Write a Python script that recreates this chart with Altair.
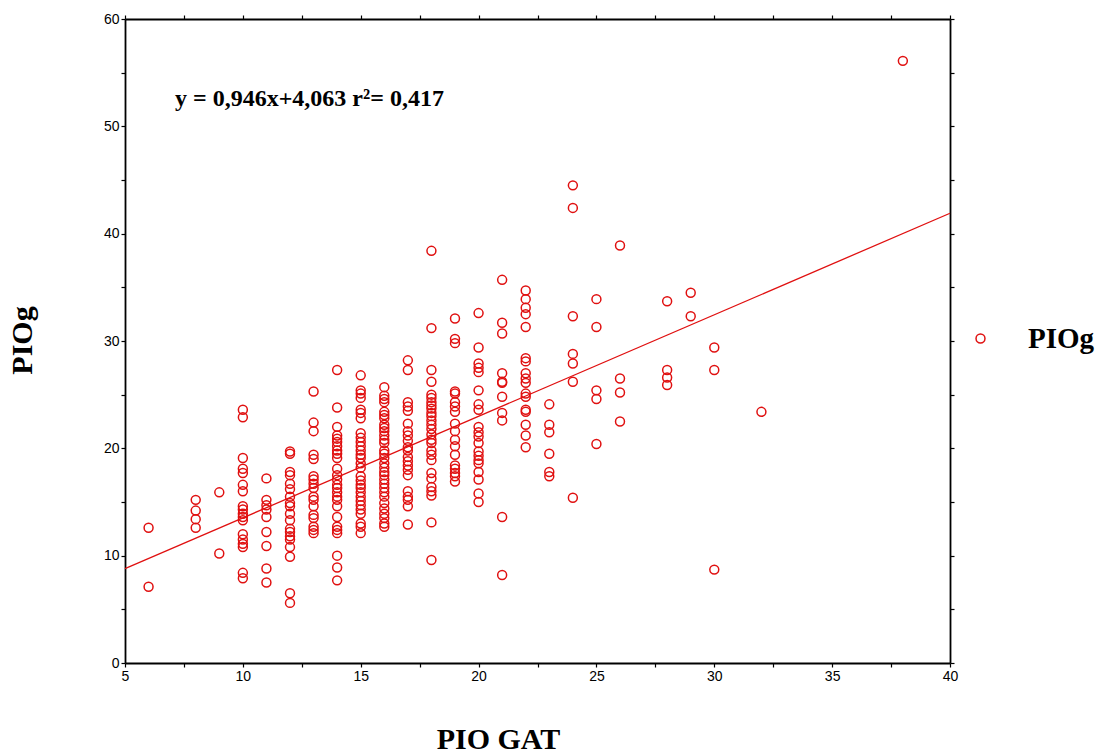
import altair as alt
import pandas as pd

# PIO GAT value of each column of points, and the PIOg values read at that column
gat_6 = [12.6, 7.1]
gat_8 = [15.2, 14.2, 13.4, 12.6]
gat_9 = [15.9, 10.2]
gat_10 = [23.6, 22.9, 19.1, 18.1, 17.7, 16.6, 16.0, 14.6, 14.3, 13.9, 13.6, 13.3, 12.0, 11.5, 11.1, 10.8, 8.4, 7.9]
gat_11 = [17.2, 15.2, 14.7, 14.3, 13.6, 12.2, 10.9, 8.8, 7.5]
gat_12 = [19.7, 19.5, 17.8, 17.5, 16.7, 16.2, 15.5, 14.9, 14.6, 13.9, 13.3, 12.5, 12.2, 11.8, 11.5, 10.8, 9.9, 6.5, 5.6]
gat_13 = [25.3, 22.4, 21.6, 19.4, 19.0, 17.4, 17.1, 16.7, 16.3, 15.5, 15.2, 14.6, 13.8, 13.5, 12.7, 12.4, 12.1]
gat_14 = [27.3, 23.8, 22.0, 21.2, 20.9, 20.6, 20.2, 19.8, 19.5, 19.1, 18.1, 17.5, 17.1, 16.6, 16.3, 15.9,
          15.5, 15.2, 14.6, 13.6, 12.7, 12.4, 12.1, 10.0, 8.9, 7.7]
gat_15 = [26.8, 25.4, 25.1, 24.7, 23.6, 23.3, 22.8, 21.4, 21.0, 20.6, 20.2, 19.8, 19.4, 19.1, 18.6, 18.2,
          17.4, 17.0, 16.6, 16.3, 15.9, 15.5, 15.1, 14.7, 14.3, 13.9, 13.0, 12.7, 12.1]
gat_16 = [25.7, 24.9, 24.6, 24.3, 23.4, 23.1, 22.8, 22.2, 21.9, 21.6, 21.2, 20.8, 20.5, 19.8, 19.5, 19.1,
          18.6, 18.2, 17.8, 17.5, 17.1, 16.7, 16.3, 15.9, 15.5, 14.9, 14.4, 13.9, 13.5, 13.0, 12.7]
gat_17 = [28.2, 27.3, 24.3, 23.9, 23.5, 22.3, 21.6, 21.2, 20.7, 20.1, 19.8, 19.2, 18.8, 18.4, 18.0, 17.5,
          16.0, 15.5, 15.2, 14.6, 12.9]
gat_18 = [38.4, 31.2, 27.3, 26.2, 25.0, 24.7, 24.3, 24.0, 23.7, 23.3, 23.0, 22.6, 22.2, 21.8, 21.3, 20.8,
          20.5, 19.8, 19.4, 18.9, 17.7, 17.2, 16.4, 16.0, 15.6, 13.1, 9.6]
gat_19 = [32.1, 30.2, 29.8, 25.3, 25.1, 24.3, 23.9, 23.4, 22.3, 21.6, 20.8, 20.2, 19.4, 18.4, 18.1, 17.7, 17.4, 16.9]
gat_20 = [32.6, 29.4, 27.9, 27.5, 27.1, 25.4, 24.1, 23.6, 22.0, 21.5, 21.1, 20.5, 19.7, 19.3, 18.9, 18.6,
          17.8, 17.1, 15.8, 15.0]
gat_21 = [35.7, 31.7, 30.7, 27.0, 26.1, 26.2, 24.8, 23.3, 22.6, 13.6, 8.2]
gat_22 = [34.7, 33.9, 33.1, 32.5, 31.3, 28.4, 28.1, 27.0, 26.5, 26.1, 25.1, 24.8, 23.6, 23.4, 22.2, 21.2, 20.1]
gat_23 = [24.1, 22.2, 21.5, 19.5, 17.8, 17.4]
gat_24 = [44.5, 42.4, 32.3, 28.8, 27.9, 26.2, 15.4]
gat_25 = [33.9, 31.3, 25.4, 24.6, 20.4]
gat_26 = [38.9, 26.5, 25.2, 22.5]
gat_28 = [33.7, 27.3, 26.6, 25.9]
gat_29 = [34.5, 32.3]
gat_30 = [29.4, 27.3, 8.7]
gat_32 = [23.4]
gat_38 = [56.1]

columns = {6: gat_6, 8: gat_8, 9: gat_9, 10: gat_10, 11: gat_11, 12: gat_12, 13: gat_13, 14: gat_14,
           15: gat_15, 16: gat_16, 17: gat_17, 18: gat_18, 19: gat_19, 20: gat_20, 21: gat_21,
           22: gat_22, 23: gat_23, 24: gat_24, 25: gat_25, 26: gat_26, 28: gat_28, 29: gat_29,
           30: gat_30, 32: gat_32, 38: gat_38}

# regression reported on the chart
slope = 0.946
intercept = 4.063
line_x = [5, 40]

x_ticks = [5 + 2.5 * i for i in range(15)]
y_ticks = [5 * i for i in range(13)]

rows = [{"PIO GAT": gx, "PIOg": gy, "series": "PIOg"} for gx, ys in columns.items() for gy in ys]
df = pd.DataFrame(rows)
line_df = pd.DataFrame({"PIO GAT": line_x})

RED = "#e01010"
SERIF = "Liberation Serif"
SANS = "Liberation Sans"

x_scale = alt.Scale(domain=[5, 40], nice=False, zero=False)
y_scale = alt.Scale(domain=[0, 60], nice=False)

common = dict(domainColor="black", domainWidth=1.8, tickColor="black", tickWidth=1.2, tickSize=4,
              labelFont=SANS, labelFontSize=14, labelColor="black", labelPadding=2, grid=False,
              labelFlush=False, labelOverlap=False)

x_axis = alt.Axis(values=x_ticks, labelExpr="datum.value % 5 == 0 ? datum.label : ''",
                  title="PIO GAT", titleFont=SERIF, titleFontSize=30, titleFontWeight="bold",
                  titleColor="black", titleX=373, titleY=85, titleBaseline="alphabetic",
                  titleAnchor="start", titleAlign="center", **common)
y_axis = alt.Axis(values=y_ticks, labelExpr="datum.value % 10 == 0 ? datum.label : ''",
                  title="PIOg", titleFont=SERIF, titleFontSize=30, titleFontWeight="bold",
                  titleColor="black", titleX=-94, titleY=321, titleAngle=270,
                  titleBaseline="alphabetic", titleAlign="center", **common)

points = alt.Chart(df).mark_point(filled=False, size=80, strokeWidth=1.5, opacity=1).encode(
    x=alt.X("PIO GAT:Q", scale=x_scale, axis=x_axis),
    y=alt.Y("PIOg:Q", scale=y_scale, axis=y_axis),
    color=alt.Color("series:N", scale=alt.Scale(range=[RED]),
                    legend=alt.Legend(title=None, orient="none", legendX=841, legendY=305,
                                      labelFont=SERIF, labelFontSize=29, labelFontWeight="bold",
                                      labelColor="black", labelOffset=33, symbolType="circle",
                                      symbolSize=80, symbolStrokeWidth=1.5, symbolFillColor="white",
                                      symbolStrokeColor=RED, padding=0)),
)

reg_line = alt.Chart(line_df).mark_line(color=RED, strokeWidth=1.3).transform_calculate(
    fit=f"{slope} * datum['PIO GAT'] + {intercept}"
).encode(
    x=alt.X("PIO GAT:Q", scale=x_scale, axis=None),
    y=alt.Y("fit:Q", scale=y_scale, axis=None),
)

annot = alt.Chart(pd.DataFrame({"t": ["y = 0,946x+4,063 r²= 0,417"]})).mark_text(
    font=SERIF, fontSize=24, fontWeight="bold", color="black", align="left", baseline="alphabetic"
).encode(text="t:N", x=alt.value(50), y=alt.value(87))

frame = alt.Chart(line_df).mark_point(opacity=0).encode(
    x=alt.X("PIO GAT:Q", scale=x_scale,
            axis=alt.Axis(orient="top", values=x_ticks, labels=False, title=None, **common)),
    y=alt.Y("PIO GAT:Q", scale=y_scale,
            axis=alt.Axis(orient="right", values=y_ticks, labels=False, title=None, **common)),
)

chart = alt.layer(points, reg_line, annot, frame).resolve_axis(
    x="independent", y="independent"
).properties(
    width=825, height=644,
    background="white",
    autosize=alt.AutoSizeParams(type="none"),
    padding={"left": 125, "top": 19, "right": 151, "bottom": 91},
).configure_view(stroke=None)

chart.save("out.html", embed_options={"renderer": "svg", "actions": False})
